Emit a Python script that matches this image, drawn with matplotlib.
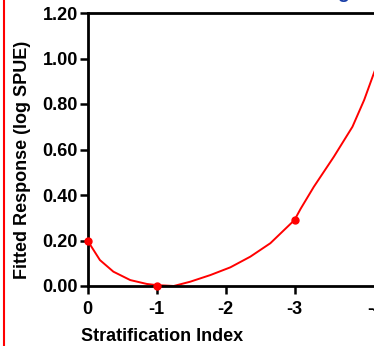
import matplotlib
matplotlib.use("Agg")
import matplotlib.pyplot as plt
from matplotlib.lines import Line2D
from matplotlib.transforms import ScaledTranslation

plt.rcParams['font.family'] = ['Liberation Sans', 'DejaVu Sans']
plt.rcParams['font.weight'] = 'bold'

# fitted curve
curve_x = [0, -0.18, -0.375, -0.62, -0.86, -1.0, -1.25, -1.49, -1.78, -2.07,
           -2.36, -2.65, -3.0, -3.09, -3.28, -3.57, -3.84, -4.01, -4.15, -4.2]
curve_y = [0.20, 0.114, 0.063, 0.026, 0.009, 0.004, 0.0, 0.019, 0.048, 0.082,
           0.129, 0.188, 0.29, 0.34, 0.436, 0.568, 0.70, 0.818, 0.935, 0.975]

# observed points
point_x = [0, -1, -3]
point_y = [0.20, 0.00, 0.29]

x_ticks = [0, -1, -2, -3, -4]
x_labels = ["0", "-1", "-2", "-3", "-4"]
y_ticks = [0.0, 0.2, 0.4, 0.6, 0.8, 1.0, 1.2]
y_labels = ["0.00", "0.20", "0.40", "0.60", "0.80", "1.00", "1.20"]

W, H = 374, 346
fig = plt.figure(figsize=(W / 100, H / 100), dpi=100)

# axes run past the right edge (picture is a crop)
left_px, bottom_px, top_px = 87.5, 286, 13
px_per_unit = 69.0
xmax = -4.5
ax = fig.add_axes([left_px / W, (H - bottom_px) / H,
                   abs(xmax) * px_per_unit / W, (bottom_px - top_px) / H])

ax.plot(curve_x, curve_y, color='red', lw=1.4, solid_capstyle='round')
ax.plot(point_x, point_y, 'o', color='red', ms=5, clip_on=False, zorder=5)

ax.set_xlim(0, xmax)
ax.set_ylim(0, 1.2)
ax.set_xticks(x_ticks)
ax.set_xticklabels(x_labels)
ax.set_yticks(y_ticks)
ax.set_yticklabels(y_labels)

for side in ['left', 'bottom', 'top']:
    ax.spines[side].set_linewidth(2)
ax.spines['right'].set_visible(False)

ax.tick_params(axis='x', direction='out', length=6, width=1.8, pad=4.5, labelsize=13)
ax.tick_params(axis='y', direction='out', length=6, width=1.8, pad=1, labelsize=13)

# last tick sits past the crop in the source, only its minus sign shows
ax.xaxis.get_major_ticks()[-1].tick1line.set_visible(False)
last = ax.get_xticklabels()[-1]
last.set_transform(last.get_transform() + ScaledTranslation(12 / 100, 0, fig.dpi_scale_trans))

ax.set_xlabel("Stratification Index", fontsize=13, fontweight='bold')
ax.xaxis.set_label_coords(0.239, -0.155)
ax.set_ylabel("Fitted Response (log SPUE)", fontsize=13, fontweight='bold')
ax.yaxis.set_label_coords(-0.181, 0.462)

# red panel border on the left and clipped blue title fragment
fig.add_artist(Line2D([3.8 / W, 3.8 / W], [0, 1], transform=fig.transFigure,
                      color='red', lw=1.5))
fig.text(343 / W, 1 + 2.5 / H, "g", color='#1a3fa8', fontsize=14,
         fontweight='bold', ha='center', va='baseline')

fig.savefig("out.png", dpi=100)
